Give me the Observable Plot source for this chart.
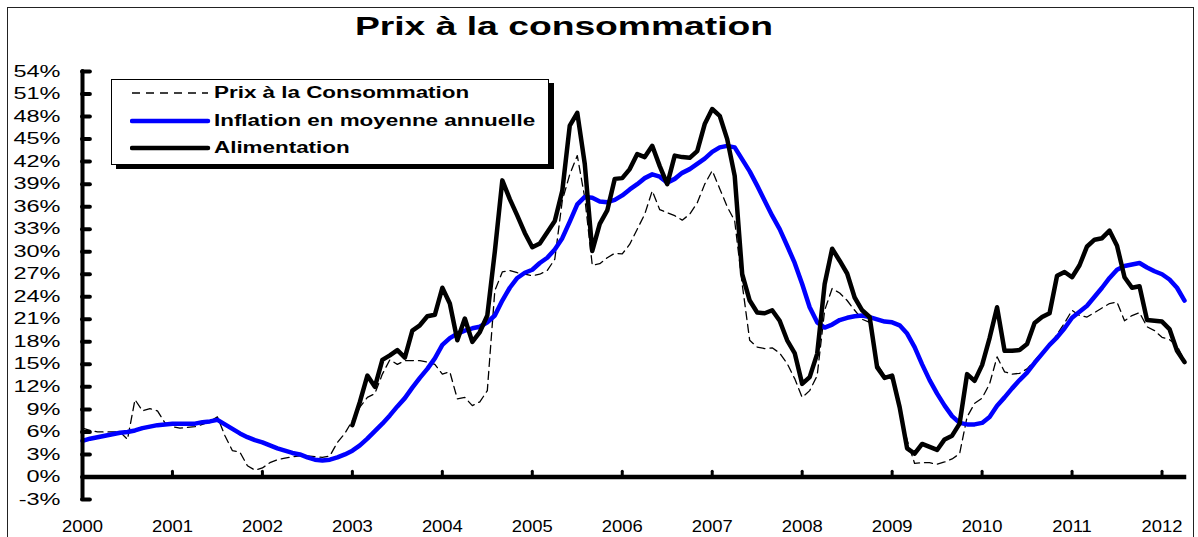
<!DOCTYPE html>
<html>
<head>
<meta charset="utf-8">
<script src="https://cdn.jsdelivr.net/npm/d3@7"></script>
<script src="https://cdn.jsdelivr.net/npm/@observablehq/plot@0.6"></script>
<style>
  html, body { margin: 0; padding: 0; background: #fff; }
  #wrap { position: relative; width: 1198px; height: 537px; overflow: hidden; font-family: "Liberation Sans", Arial, sans-serif; }
  #chart { position: absolute; left: 0; top: 0; }
  #border { position: absolute; left: 7px; top: 7px; width: 1185px; height: 560px; border: 1px solid #222; pointer-events: none; z-index: 3; }
  #title { position: absolute; left: 564px; top: 14px; font-size: 25px; line-height: 25px; font-weight: bold; white-space: nowrap; transform: translateX(-50%) scaleX(1.49); transform-origin: center; z-index: 2; }
  #legend { position: absolute; left: 111px; top: 79px; width: 436px; height: 84px; border: 1px solid #000; background: #fff; box-shadow: 5px 4px 0 #000; z-index: 2; }
  .lrow { position: absolute; left: 0; height: 20px; width: 436px; }
  .lrow svg { position: absolute; left: 18px; top: 0; }
  .lrow span { position: absolute; left: 102px; top: 1px; font-size: 16px; line-height: 18px; font-weight: bold; white-space: nowrap; transform: scaleX(1.4); transform-origin: left center; }
</style>
</head>
<body>
<div id="wrap">
  <div id="title"></div>
  <div id="chart"></div>
  <div id="legend"></div>
  <div id="border"></div>
</div>
<script>
// ---- Data (monthly, Jan 2000 .. Apr 2012) ----
const title = "Prix à la consommation";
const seriesNames = ["Prix à la Consommation", "Inflation en moyenne annuelle", "Alimentation"];
const yearLabels = ["2000","2001","2002","2003","2004","2005","2006","2007","2008","2009","2010","2011","2012"];
const yTicks = [-3,0,3,6,9,12,15,18,21,24,27,30,33,36,39,42,45,48,51,54];

// Prix à la Consommation (dashed)
const prixConso = [
  6.5,6.2,6.0,6.0,6.0,6.0,5.0,10.3,8.8,9.1,8.8,7.2,
  6.7,6.5,6.6,6.7,7.0,7.4,8.0,5.5,3.5,3.3,1.5,0.9,
  1.2,1.9,2.3,2.5,2.7,2.8,2.8,2.7,2.6,2.8,4.6,5.8,
  7.5,9.3,10.6,11.1,13.7,15.6,15.0,15.5,15.5,15.5,15.3,15.0,
  13.7,14.0,10.4,10.6,9.5,10.0,11.5,24.8,27.3,27.5,27.2,27.0,
  26.8,27.0,27.5,29.0,36.8,40.3,42.8,37.2,28.2,28.4,29.2,29.8,
  29.7,31.0,33.0,35.0,38.1,35.6,35.2,34.8,34.2,35.0,36.5,39.0,
  40.8,38.4,36.0,34.1,25.7,18.2,17.3,17.1,17.2,16.5,15.1,13.1,
  10.6,11.5,13.5,22.2,25.1,24.5,23.5,22.2,21.0,20.6,15.1,13.5,
  13.0,8.9,4.9,1.8,1.9,1.9,1.7,2.0,2.4,3.1,8.0,9.8,
  10.5,12.4,16.0,14.0,13.7,13.8,14.4,15.5,16.6,17.5,19.0,20.5,
  22.2,21.5,21.3,21.9,22.5,23.1,23.3,20.8,21.5,21.9,20.0,19.5,
  18.6,18.3,17.5,15.5
];

// Inflation en moyenne annuelle (blue)
const inflationMoy = [
  4.8,5.1,5.3,5.5,5.7,5.9,6.0,6.2,6.5,6.7,6.9,7.0,
  7.1,7.1,7.1,7.1,7.3,7.4,7.6,7.0,6.4,5.8,5.3,4.9,
  4.6,4.2,3.8,3.5,3.2,3.0,2.6,2.3,2.2,2.3,2.6,3.0,
  3.5,4.2,5.1,6.1,7.1,8.2,9.4,10.5,11.9,13.2,14.4,15.8,
  17.6,18.5,19.1,19.5,19.8,20.0,20.6,21.5,23.5,25.2,26.5,27.2,
  27.6,28.5,29.2,30.3,31.8,34.0,36.3,37.3,37.2,36.7,36.6,36.9,
  37.5,38.3,39.0,39.8,40.3,40.0,39.2,39.7,40.5,41.0,41.7,42.4,
  43.3,43.9,44.1,43.9,42.3,40.7,38.8,36.8,34.8,33.0,30.8,28.5,
  25.7,22.6,20.6,19.9,20.3,20.9,21.2,21.4,21.5,21.3,21.0,20.7,
  20.6,20.2,19.1,17.3,15.0,12.9,11.1,9.5,8.1,7.2,7.0,7.0,
  7.2,8.0,9.5,10.6,11.8,12.9,13.9,15.2,16.4,17.6,18.6,19.8,
  21.2,22.0,22.8,24.0,25.2,26.5,27.6,28.1,28.3,28.5,27.9,27.4,
  27.0,26.3,25.2,23.5
];

// Alimentation (black), starts Jan 2003
const alimStart = 36;
const alimentation = [
  6.9,10.0,13.5,12.0,15.6,16.2,16.9,15.9,19.5,20.2,21.4,21.6,
  25.2,23.1,18.2,21.1,18.0,19.3,21.5,30.0,39.5,37.0,34.8,32.5,
  30.6,31.1,32.6,34.1,38.1,46.8,48.5,41.7,30.1,33.7,35.5,39.7,
  39.8,41.0,43.0,42.6,44.1,41.4,39.0,42.8,42.6,42.5,43.4,47.0,
  49.0,48.1,45.0,40.1,27.0,23.5,21.9,21.8,22.2,20.8,18.2,16.5,
  12.4,13.3,16.4,25.7,30.4,28.8,27.1,23.9,22.2,21.3,14.6,13.2,
  13.5,9.3,3.8,3.1,4.4,4.0,3.6,5.0,5.5,7.1,13.7,12.8,
  14.9,18.5,22.6,16.8,16.8,16.9,17.7,20.5,21.3,21.8,26.8,27.3,
  26.6,28.2,30.7,31.6,31.8,32.8,30.8,26.6,25.2,25.4,20.9,20.8,
  20.7,19.7,16.8,15.3
];

// ---- Tables ----
const prixRows = prixConso.map((v, i) => ({i, v}));
const inflRows = inflationMoy.map((v, i) => ({i, v}));
const alimRows = alimentation.map((v, k) => ({i: k + alimStart, v}));
const yearIdx = yearLabels.map((_, k) => k * 12);
const lastIdx = inflationMoy.length - 1;

const blue = "#0000FF";
const tickLenIdx = 1.05;   // y-tick length in x-index units
const xTickLen = 0.7;      // x-tick length in % units

const chart = Plot.plot({
  width: 1198,
  height: 537,
  marginLeft: 82,
  marginRight: 14,
  marginTop: 71,
  marginBottom: 38,
  x: {domain: [0, lastIdx], axis: null, label: null},
  y: {domain: [-3, 54], axis: null, label: null},
  style: {fontFamily: "'Liberation Sans', Arial, sans-serif", fontSize: "16px", color: "#000", background: "transparent"},
  marks: [
    Plot.axisY({ticks: yTicks, tickSize: 0, tickPadding: 22, tickFormat: d => d + "%", fontSize: 16, label: null}),
    Plot.axisX({ticks: yearIdx, tickSize: 0, tickPadding: 21, tickFormat: d => yearLabels[d / 12], fontSize: 16, anchor: "bottom", label: null}),
    Plot.line(prixRows, {x: "i", y: "v", stroke: "#000", strokeWidth: 1.3, strokeDasharray: "8,5", strokeLinejoin: "round"}),
    Plot.line(inflRows, {x: "i", y: "v", stroke: blue, strokeWidth: 4.5, strokeLinejoin: "round", strokeLinecap: "round"}),
    Plot.line(alimRows, {x: "i", y: "v", stroke: "#000", strokeWidth: 4.5, strokeLinejoin: "round", strokeLinecap: "round"}),
    Plot.ruleY([0], {x1: 0, x2: lastIdx + 0.3, stroke: "#000", strokeWidth: 4.5}),
    Plot.ruleX([0], {y1: -3, y2: 54, stroke: "#000", strokeWidth: 4, strokeLinecap: "round"}),
    Plot.ruleY(yTicks, {y: d => d, x1: 0, x2: tickLenIdx, stroke: "#000", strokeWidth: 4, strokeLinecap: "round"}),
    Plot.ruleX(yearIdx, {x: d => d, y1: 0, y2: xTickLen, stroke: "#000", strokeWidth: 3, strokeLinecap: "round"})
  ]
});

// horizontally stretched text, as in the reference
chart.querySelectorAll('g[aria-label="y-axis tick label"] text').forEach(t => {
  t.setAttribute("transform", (t.getAttribute("transform") || "") + " scale(1.47,1)");
});
chart.querySelectorAll('g[aria-label="x-axis tick label"] text').forEach(t => {
  t.setAttribute("transform", (t.getAttribute("transform") || "") + " scale(1.15,1)");
});
document.getElementById("chart").appendChild(chart);

document.getElementById("title").textContent = title;

// legend
const legend = document.getElementById("legend");
const legendStyles = [
  {stroke: "#000", width: 1.3, dash: "8,6"},
  {stroke: blue, width: 4.5, dash: null},
  {stroke: "#000", width: 4.5, dash: null}
];
const rowTops = [3, 31, 58];
seriesNames.forEach((name, k) => {
  const row = document.createElement("div");
  row.className = "lrow";
  row.style.top = rowTops[k] + "px";
  const s = legendStyles[k];
  row.innerHTML = `<svg width="82" height="20"><line x1="2" x2="78" y1="10" y2="10" stroke="${s.stroke}" stroke-width="${s.width}" ${s.dash ? `stroke-dasharray="${s.dash}"` : 'stroke-linecap="round"'}/></svg><span></span>`;
  row.querySelector("span").textContent = name;
  legend.appendChild(row);
});
</script>
</body>
</html>
